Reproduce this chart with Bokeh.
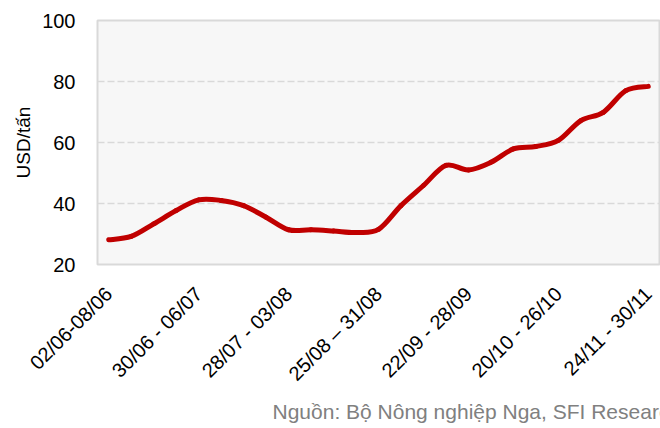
import math
from bokeh.plotting import figure
from bokeh.models import FixedTicker, Range1d, Title
from bokeh.embed import file_html
from bokeh.resources import INLINE

# ---- data ----
values = [28.1, 29.2, 33.3, 37.7, 41.2, 41.0, 39.3, 35.5, 31.4, 31.4, 31.0, 30.5,
          31.5, 39.3, 45.9, 52.5, 51.0, 53.5, 57.9, 58.7, 60.7, 67.2, 69.9, 77.0, 78.4]
tick_positions = [0, 4, 8, 12, 16, 20, 24]
tick_labels = ["02/06-08/06", "30/06 - 06/07", "28/07 - 03/08", "25/08 \u2013 31/08",
               "22/09 - 28/09", "20/10 - 26/10", "24/11 - 30/11"]
y_ticks = [20, 40, 60, 80, 100]
y_label = "USD/t\u1ea5n"
source_text = "Ngu\u1ed3n: B\u1ed9 N\u00f4ng nghi\u1ec7p Nga, SFI Research"

FONT = "Liberation Sans"
xs = list(range(len(values)))

p = figure(width=660, height=428, output_backend="svg", toolbar_location=None,
           x_range=Range1d(-0.5, len(values) - 0.5), y_range=Range1d(20, 100),
           min_border_left=97, min_border_right=1, min_border_top=20, min_border_bottom=164)
p.background_fill_color = "#f7f7f7"
p.border_fill_color = "white"
p.outline_line_color = "#d9d9d9"
p.outline_line_width = 2

# smoothed line (Catmull-Rom style bezier segments through the data points)
n = len(values)
x0, y0, x1, y1, cx0, cy0, cx1, cy1 = [], [], [], [], [], [], [], []
for i in range(n - 1):
    ip = max(i - 1, 0)
    inn = min(i + 2, n - 1)
    x0.append(xs[i]); y0.append(values[i])
    x1.append(xs[i + 1]); y1.append(values[i + 1])
    cx0.append(xs[i] + (xs[i + 1] - xs[ip]) / 6)
    cy0.append(values[i] + (values[i + 1] - values[ip]) / 6)
    cx1.append(xs[i + 1] - (xs[inn] - xs[i]) / 6)
    cy1.append(values[i + 1] - (values[inn] - values[i]) / 6)
p.bezier(x0=x0, y0=y0, x1=x1, y1=y1, cx0=cx0, cy0=cy0, cx1=cx1, cy1=cy1,
         line_color="#c00000", line_width=5, line_cap="round")

# axes
p.xgrid.visible = False
p.ygrid.ticker = FixedTicker(ticks=[40, 60, 80])
p.ygrid.grid_line_color = "#d9d9d9"
p.ygrid.grid_line_width = 1.5
p.ygrid.grid_line_dash = "7 3"

p.yaxis.ticker = FixedTicker(ticks=y_ticks)
p.yaxis.axis_line_color = None
p.yaxis.major_tick_line_color = None
p.yaxis.minor_tick_line_color = None
p.yaxis.major_label_standoff = 16
p.yaxis.major_label_text_font = FONT
p.yaxis.major_label_text_font_size = "20px"
p.yaxis.major_label_text_color = "#000000"
p.yaxis.axis_label = y_label
p.yaxis.axis_label_text_font = FONT
p.yaxis.axis_label_text_font_size = "19px"
p.yaxis.axis_label_text_font_style = "normal"
p.yaxis.axis_label_text_color = "#000000"
p.yaxis.axis_label_standoff = 5

p.xaxis.ticker = FixedTicker(ticks=tick_positions)
p.xaxis.major_label_overrides = {t: l for t, l in zip(tick_positions, tick_labels)}
p.xaxis.major_label_orientation = math.pi / 4
p.xaxis.axis_line_color = None
p.xaxis.major_tick_line_color = None
p.xaxis.minor_tick_line_color = None
p.xaxis.major_label_standoff = 20
p.xaxis.major_label_text_font = FONT
p.xaxis.major_label_text_font_size = "20px"
p.xaxis.major_label_text_color = "#000000"

src = Title(text=source_text, align="left", offset=175, standoff=5,
            text_font=FONT, text_font_size="21px", text_font_style="normal",
            text_color="#808080")
p.add_layout(src, "below")

open("out.html", "w").write(file_html(p, INLINE))
